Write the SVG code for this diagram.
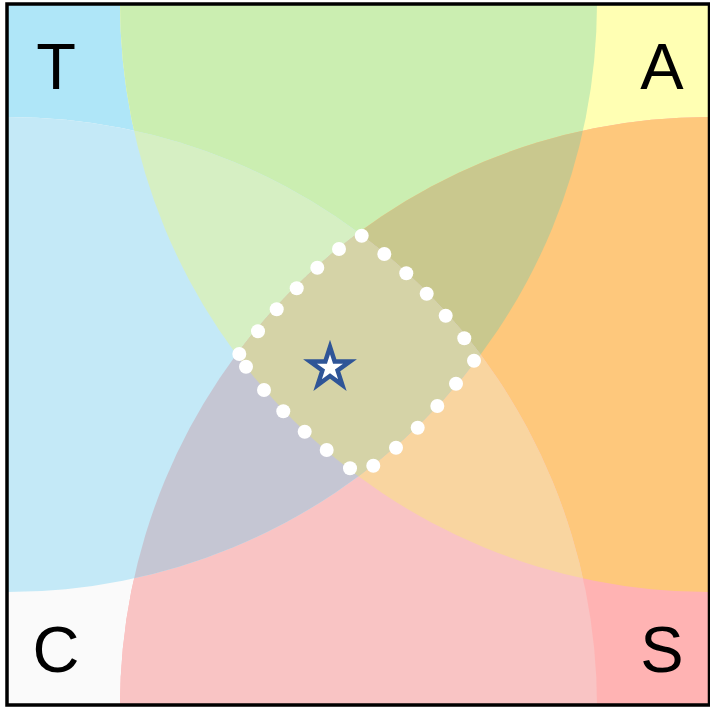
<svg xmlns="http://www.w3.org/2000/svg" width="710" height="708" viewBox="0 0 710 708">
<style>
.lbl{font-family:"Liberation Sans",Arial,sans-serif;font-size:65px;fill:#000;text-anchor:middle}
.dot{fill:#fff}
</style>
<defs>
<clipPath id="frame"><rect x="7" y="4" width="702.5" height="701"/></clipPath>
<clipPath id="kTL"><circle cx="8" cy="3" r="589"/></clipPath>
<clipPath id="kTR"><circle cx="709" cy="3" r="589"/></clipPath>
<clipPath id="kBL"><circle cx="8" cy="706" r="589"/></clipPath>
<clipPath id="kBR"><circle cx="709" cy="706" r="589"/></clipPath>
</defs>
<rect width="710" height="708" fill="#fff"/>
<g id="regions" clip-path="url(#frame)">
  <!-- single circles -->
  <circle id="T-circle" cx="8" cy="3" r="589" fill="#afe6f8"/>
  <circle id="A-circle" cx="709" cy="3" r="589" fill="#ffffb3"/>
  <circle id="C-circle" cx="8" cy="706" r="589" fill="#fafafa"/>
  <circle id="S-circle" cx="709" cy="706" r="589" fill="#ffb3b3"/>
  <!-- pairs -->
  <circle cx="8" cy="3" r="589" fill="#cbeeb1" clip-path="url(#kTR)"/>
  <circle cx="709" cy="3" r="589" fill="#fec87c" clip-path="url(#kBR)"/>
  <circle cx="709" cy="706" r="589" fill="#f9c4c4" clip-path="url(#kBL)"/>
  <circle cx="8" cy="706" r="589" fill="#c4e9f7" clip-path="url(#kTL)"/>
  <!-- triples -->
  <g clip-path="url(#kBL)"><circle cx="8" cy="3" r="589" fill="#d6efc3" clip-path="url(#kTR)"/></g>
  <g clip-path="url(#kBR)"><circle cx="8" cy="3" r="589" fill="#c9c88e" clip-path="url(#kTR)"/></g>
  <g clip-path="url(#kBL)"><circle cx="709" cy="3" r="589" fill="#f9d5a0" clip-path="url(#kBR)"/></g>
  <g clip-path="url(#kBL)"><circle cx="8" cy="3" r="589" fill="#c5c6d3" clip-path="url(#kBR)"/></g>
  <!-- all four -->
  <g id="center" clip-path="url(#kTL)"><g clip-path="url(#kTR)"><circle cx="8" cy="706" r="589" fill="#d5d3a7" clip-path="url(#kBR)"/></g></g>
</g>
<g id="center-outline">
  <circle class="dot" cx="361.7" cy="235.7" r="7"/>
  <circle class="dot" cx="339" cy="249" r="7"/>
  <circle class="dot" cx="317.3" cy="267.7" r="7"/>
  <circle class="dot" cx="296.7" cy="288.3" r="7"/>
  <circle class="dot" cx="276.7" cy="309.3" r="7"/>
  <circle class="dot" cx="258" cy="331.3" r="7"/>
  <circle class="dot" cx="239.3" cy="354" r="7"/>
  <circle class="dot" cx="246" cy="366.7" r="7"/>
  <circle class="dot" cx="264" cy="390" r="7"/>
  <circle class="dot" cx="283.3" cy="411.3" r="7"/>
  <circle class="dot" cx="304.7" cy="431.7" r="7"/>
  <circle class="dot" cx="326.7" cy="450" r="7"/>
  <circle class="dot" cx="350" cy="468.3" r="7"/>
  <circle class="dot" cx="373.3" cy="465.7" r="7"/>
  <circle class="dot" cx="396" cy="447.7" r="7"/>
  <circle class="dot" cx="417.7" cy="427.7" r="7"/>
  <circle class="dot" cx="437.3" cy="406" r="7"/>
  <circle class="dot" cx="456" cy="383.7" r="7"/>
  <circle class="dot" cx="474" cy="360.7" r="7"/>
  <circle class="dot" cx="464.3" cy="338.3" r="7"/>
  <circle class="dot" cx="445.7" cy="315.7" r="7"/>
  <circle class="dot" cx="426.7" cy="293.7" r="7"/>
  <circle class="dot" cx="406.3" cy="273.3" r="7"/>
  <circle class="dot" cx="384.3" cy="254" r="7"/>
</g>
<g id="star">
  <path d="M330,347 L334.70,361.53 L349.97,361.51 L337.61,370.47 L342.34,384.99 L330,376 L317.66,384.99 L322.39,370.47 L310.03,361.51 L325.30,361.53 Z" fill="#fff" stroke="#2f5597" stroke-width="4.5"/>
</g>
<rect id="frame-border" x="7" y="4" width="702.5" height="701" fill="none" stroke="#000" stroke-width="3.5"/>
<g id="labels">
  <text class="lbl" x="56" y="89">T</text>
  <text class="lbl" x="662" y="89">A</text>
  <text class="lbl" x="56" y="672">C</text>
  <text class="lbl" x="662" y="672">S</text>
</g>
</svg>
